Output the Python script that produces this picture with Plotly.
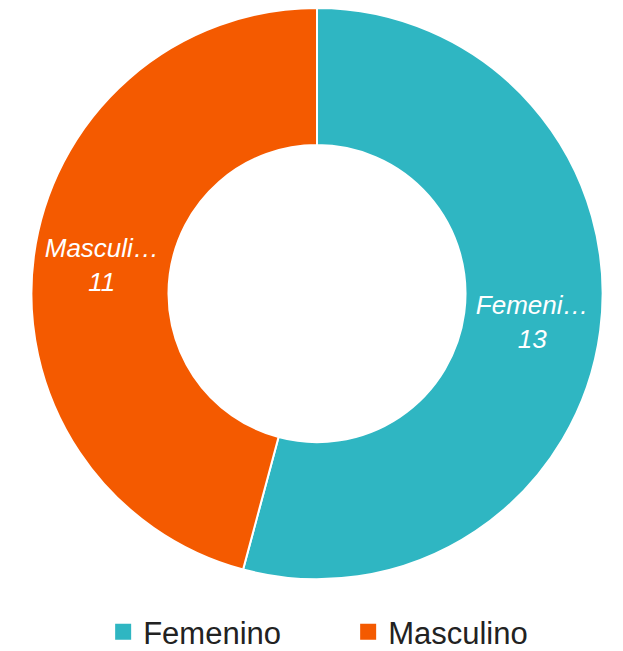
import plotly.graph_objects as go

categories = ["Femenino", "Masculino"]
short_labels = ["Femeni…", "Masculi…"]
values = [13, 11]
colors = ["#2FB6C2", "#F45A00"]

fig = go.Figure()
fig.add_trace(go.Pie(
    labels=categories,
    values=values,
    customdata=short_labels,
    texttemplate="%{customdata}<br>%{value}",
    textposition="inside",
    insidetextorientation="horizontal",
    textfont=dict(family="Liberation Sans, Arial, sans-serif", size=26, color="white", style="italic"),
    marker=dict(colors=colors, line=dict(color="white", width=2)),
    hole=0.52,
    sort=False,
    direction="clockwise",
    rotation=0,
    domain=dict(x=[0.0297, 0.9623], y=[0.1075, 1.0]),
    hoverinfo="label+value+percent",
    showlegend=False,
))

# legend entries (larger square swatches)
for name, col in zip(categories, colors):
    fig.add_trace(go.Scatter(
        x=[None], y=[None], mode="markers", name=name,
        marker=dict(symbol="square", size=16, color=col),
        showlegend=True, hoverinfo="skip",
    ))

fig.update_layout(
    width=623, height=651,
    margin=dict(l=0, r=0, t=0, b=0),
    paper_bgcolor="white",
    plot_bgcolor="white",
    xaxis=dict(visible=False),
    yaxis=dict(visible=False),
    showlegend=True,
    legend=dict(
        orientation="h", x=0.546, xanchor="center", y=0.025, yanchor="middle",
        font=dict(family="Liberation Sans, Arial, sans-serif", size=31, color="#222222"),
        itemsizing="trace",
        entrywidth=200,
    ),
)

fig.write_html("out.html")
